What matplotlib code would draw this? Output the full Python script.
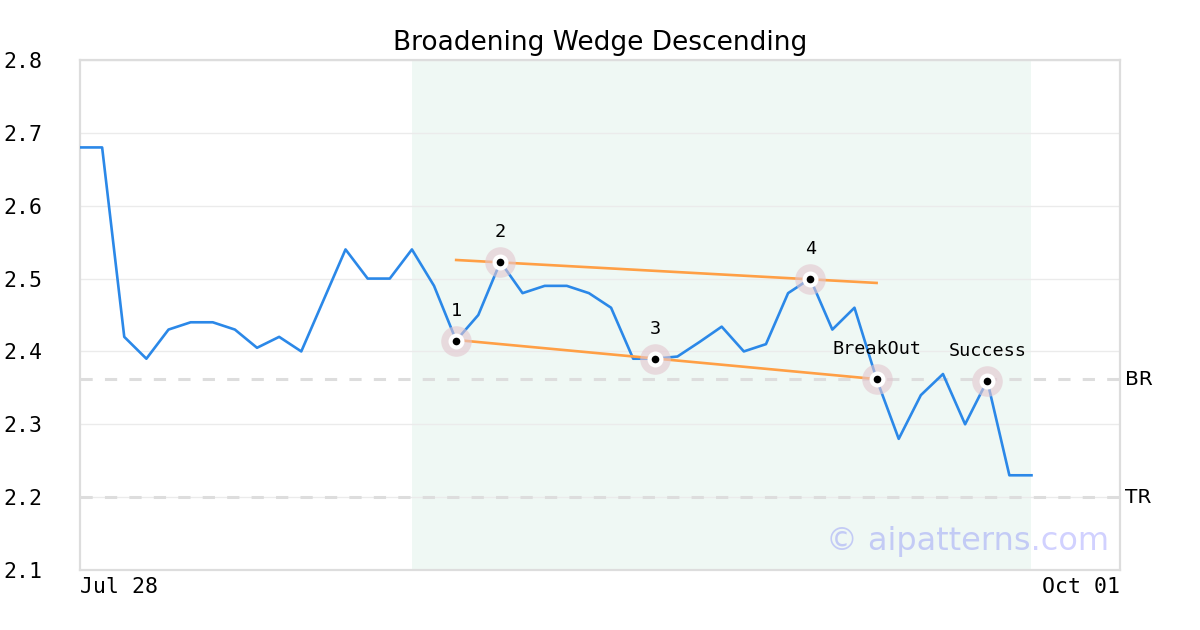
import matplotlib
matplotlib.use("Agg")
import matplotlib.pyplot as plt
import matplotlib.transforms as mtransforms

# ---- data ----
price = [2.68, 2.68, 2.42, 2.39, 2.43, 2.44, 2.44, 2.43, 2.405, 2.42,
         2.40, 2.47, 2.54, 2.50, 2.50, 2.54, 2.49, 2.415, 2.45, 2.523,
         2.48, 2.49, 2.49, 2.48, 2.46, 2.39, 2.39, 2.393, 2.413, 2.434,
         2.40, 2.41, 2.48, 2.50, 2.43, 2.46, 2.362, 2.28, 2.34, 2.369,
         2.30, 2.36, 2.23, 2.23]
days = list(range(len(price)))

pattern_idx = [17, 19, 26, 33, 36, 41]
pattern_labels = ["1", "2", "3", "4", "BreakOut", "Success"]

upper_x = [17, 36]
upper_y = [2.5255, 2.494]
lower_x = [17, 36]
lower_y = [2.4157, 2.362]

pattern_start, pattern_end = 15, 43
levels = {"BR": 2.362, "TR": 2.20}

x_ticks = [0, 47]
x_ticklabels = ["Jul 28", "Oct 01"]
y_ticks = [2.1, 2.2, 2.3, 2.4, 2.5, 2.6, 2.7, 2.8]

# ---- style ----
BLUE = "#2b88e8"
ORANGE = "#ff9f45"
GRID = "#ebebeb"
SPINE = "#dddddd"
MONO = "DejaVu Sans Mono"

fig = plt.figure(figsize=(12, 6.3), dpi=100)
ax = fig.add_axes([80 / 1200, 60 / 630, 1040 / 1200, 510 / 630])

ax.set_xlim(0, 47)
ax.set_ylim(2.1, 2.8)

# pattern zone
ax.axvspan(pattern_start, pattern_end, color="#eff8f4", zorder=0, lw=0)

# grid
ax.set_yticks(y_ticks)
ax.yaxis.grid(True, color=GRID, lw=1, zorder=1)
ax.set_axisbelow(True)

# support / resistance levels
for name, val in levels.items():
    ax.axhline(val, color=SPINE, lw=2.2, ls=(0, (4, 4)), zorder=2)
    tr = mtransforms.blended_transform_factory(ax.transAxes, ax.transData)
    ax.text(1.005, val, name, transform=tr, ha="left", va="center",
            fontsize=14.5, color="black")

# price line
ax.plot(days, price, color=BLUE, lw=1.9, zorder=3)

# wedge lines
ax.plot(upper_x, upper_y, color=ORANGE, lw=1.9, zorder=4)
ax.plot(lower_x, lower_y, color=ORANGE, lw=1.9, zorder=4)

# pattern points
px = pattern_idx
py = [price[i] for i in pattern_idx]
ax.scatter(px, py, s=22 ** 2, color="#e3c6cf", alpha=0.6, lw=0, zorder=5)
ax.scatter(px, py, s=11.5 ** 2, color="white", lw=0, zorder=6)
ax.scatter(px, py, s=5.5 ** 2, color="black", lw=0, zorder=7)
for x, y, lab in zip(px, py, pattern_labels):
    ax.annotate(lab, (x, y), xytext=(0, 21.5), textcoords="offset points",
                ha="center", va="center", family=MONO, fontsize=13.3)

# watermark
ax.text(0.99, 0.055, "\u00a9 aipatterns.com", transform=ax.transAxes,
        ha="right", va="center", fontsize=23, color="#0000ff", alpha=0.18,
        zorder=8)

# axes cosmetics
for sp in ax.spines.values():
    sp.set_color(SPINE)
    sp.set_linewidth(1.6)

ax.set_xticks(x_ticks)
ax.set_xticklabels(x_ticklabels, family=MONO, fontsize=15.5)
xl = ax.get_xticklabels()
xl[0].set_ha("left")
xl[1].set_ha("right")
ax.set_yticklabels([f"{v:.1f}" for v in y_ticks], family=MONO, fontsize=15.5)
ax.tick_params(axis="both", length=0)
ax.tick_params(axis="y", pad=27)
ax.tick_params(axis="x", pad=5)

ax.set_title("Broadening Wedge Descending", fontsize=19, pad=7)

fig.savefig("out.png", dpi=100)
